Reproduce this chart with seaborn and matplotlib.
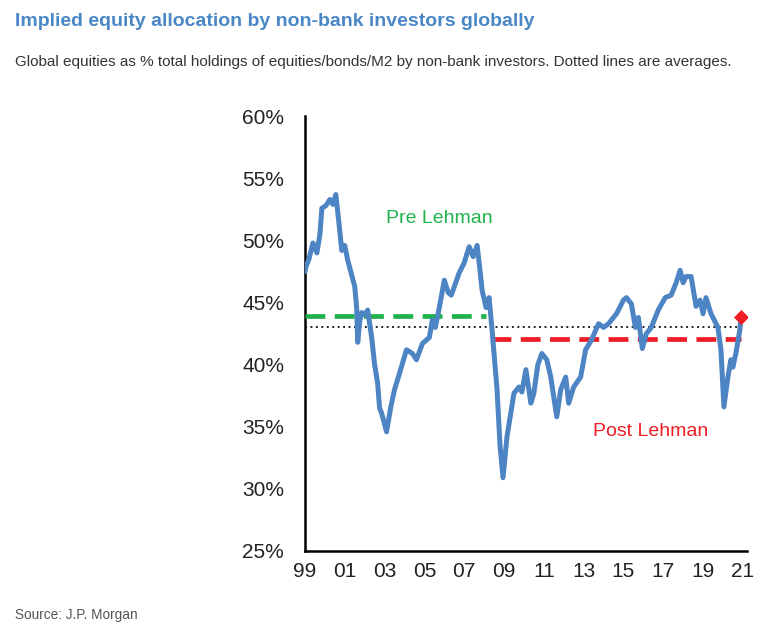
import matplotlib
matplotlib.use("Agg")
import matplotlib.pyplot as plt
import matplotlib.ticker as mticker
import seaborn as sns
import numpy as np
import pandas as pd

# datos (año decimal, % en renta variable)
anios = [1999.0, 1999.05, 1999.2, 1999.4, 1999.6, 1999.75, 1999.85, 2000.05, 2000.25, 2000.4,
         2000.55, 2000.7, 2000.85, 2001.0, 2001.15, 2001.3, 2001.5, 2001.6, 2001.65, 2001.75,
         2001.85, 2002.0, 2002.15, 2002.35, 2002.5, 2002.65, 2002.75, 2002.85, 2002.95, 2003.1,
         2003.3, 2003.5, 2003.75, 2004.1, 2004.4, 2004.6, 2004.9, 2005.25, 2005.4, 2005.55,
         2005.75, 2006.0, 2006.2, 2006.35, 2006.55, 2006.75, 2007.0, 2007.25, 2007.45, 2007.65,
         2007.8, 2007.9, 2008.1, 2008.25, 2008.4, 2008.65, 2008.8, 2008.95, 2009.15, 2009.5,
         2009.75, 2009.9, 2010.1, 2010.25, 2010.35, 2010.5, 2010.7, 2010.9, 2011.15, 2011.35,
         2011.5, 2011.65, 2011.85, 2012.1, 2012.25, 2012.5, 2012.85, 2013.1, 2013.4, 2013.75,
         2014.0, 2014.25, 2014.65, 2014.75, 2015.0, 2015.15, 2015.4, 2015.6, 2015.75, 2015.95,
         2016.15, 2016.4, 2016.75, 2017.1, 2017.4, 2017.65, 2017.85, 2018.0, 2018.15, 2018.4,
         2018.65, 2018.85, 2019.0, 2019.15, 2019.4, 2019.75, 2019.9, 2020.05, 2020.25, 2020.4,
         2020.5, 2020.65, 2020.85, 2020.9]
asignacion = [47.5, 47.9, 48.5, 49.8, 49.0, 50.5, 52.6, 52.8, 53.3, 52.9,
              53.7, 51.5, 49.2, 49.6, 48.4, 47.5, 46.3, 44.5, 41.8, 43.5,
              44.2, 44.0, 44.4, 42.2, 40.0, 38.5, 36.5, 36.1, 35.5, 34.6,
              36.5, 38.0, 39.3, 41.2, 40.9, 40.4, 41.7, 42.2, 43.6, 43.0,
              44.6, 46.8, 45.8, 45.6, 46.5, 47.4, 48.2, 49.5, 48.7, 49.6,
              47.5, 46.0, 44.6, 45.4, 42.8, 38.0, 33.5, 30.9, 34.2, 37.7,
              38.2, 37.8, 39.6, 38.0, 36.9, 37.7, 40.0, 40.9, 40.4, 39.0,
              37.4, 35.8, 38.0, 39.0, 36.9, 38.2, 39.0, 41.2, 42.0, 43.3,
              43.0, 43.3, 44.1, 44.4, 45.2, 45.4, 44.9, 43.0, 43.8, 41.3,
              42.5, 43.0, 44.4, 45.4, 45.6, 46.6, 47.6, 46.6, 47.1, 47.1,
              44.7, 45.2, 44.1, 45.4, 44.1, 43.0, 41.2, 36.6, 39.0, 40.4,
              39.8, 40.9, 42.8, 43.8]

# promedios (líneas horizontales)
pre_x, pre_y = [1999.0, 2008.1], [43.9, 43.9]
post_x, post_y = [2008.35, 2020.9], [42.1, 42.1]
total_x, total_y = [1999.0, 2020.9], [43.0, 43.0]
ultimo_x, ultimo_y = [2020.9], [43.8]

ticks_x = list(range(1999, 2022, 2))
etiquetas_x = ['99', '01', '03', '05', '07', '09', '11', '13', '15', '17', '19', '21']
ticks_y = [25, 30, 35, 40, 45, 50, 55, 60]

azul = '#4d84c3'
verde = '#1fb24a'
rojo = '#ee1c24'

sns.set_style("white")
plt.rcParams['font.family'] = ['Liberation Sans', 'DejaVu Sans']

fig = plt.figure(figsize=(7.82, 6.31), dpi=100)
ax = fig.add_axes([0.390, 0.1268, 0.565, 0.6889])

df = pd.DataFrame({'anio': anios, 'valor': asignacion})

sns.lineplot(x=total_x, y=total_y, ax=ax, color='#222222', lw=1.4,
             linestyle=(0, (1, 1.8)), zorder=2)
sns.lineplot(x=pre_x, y=pre_y, ax=ax, color=verde, lw=3.4,
             linestyle=(0, (4.2, 2.0)), zorder=3)
sns.lineplot(x=post_x, y=post_y, ax=ax, color=rojo, lw=3.4,
             linestyle=(0, (4.2, 2.0)), zorder=3)
sns.lineplot(data=df, x='anio', y='valor', ax=ax, color=azul, lw=3.6,
             estimator=None, zorder=4)
sns.scatterplot(x=ultimo_x, y=ultimo_y, ax=ax, color=rojo, marker='D', s=50,
                edgecolor=rojo, zorder=5)

ax.text(2005.75, 51.8, 'Pre Lehman', color=verde, fontsize=14, ha='center', va='center')
ax.text(2016.35, 34.6, 'Post Lehman', color=rojo, fontsize=14, ha='center', va='center')

ax.set_xlim(1999, 2021.2)
ax.set_ylim(25, 60)
ax.set_xticks(ticks_x)
ax.set_xticklabels(etiquetas_x)
ax.set_yticks(ticks_y)
ax.yaxis.set_major_formatter(mticker.FuncFormatter(lambda v, p: f"{v:.0f}%"))
ax.set_xlabel('')
ax.set_ylabel('')

for s in ['top', 'right']:
    ax.spines[s].set_visible(False)
for s in ['left', 'bottom']:
    ax.spines[s].set_linewidth(1.8)
    ax.spines[s].set_color('black')

ax.tick_params(axis='both', direction='out', length=5, width=1.5, colors='black',
               labelsize=15)
ax.tick_params(axis='y', pad=10)
ax.tick_params(axis='x', pad=3)
for lbl in ax.get_xticklabels() + ax.get_yticklabels():
    lbl.set_color('#222222')

fig.text(0.019, 1 - 22 / 631, 'Implied equity allocation by non-bank investors globally',
         color='#4a87c6', fontsize=14, fontweight='bold', va='center', ha='left')
fig.text(0.019, 1 - 62 / 631,
         'Global equities as % total holdings of equities/bonds/M2 by non-bank investors. Dotted lines are averages.',
         color='#333333', fontsize=11, va='center', ha='left')
fig.text(0.019, 1 - 615 / 631, 'Source: J.P. Morgan', color='#555555', fontsize=9.8,
         va='center', ha='left')

fig.savefig('out.png', dpi=100)
